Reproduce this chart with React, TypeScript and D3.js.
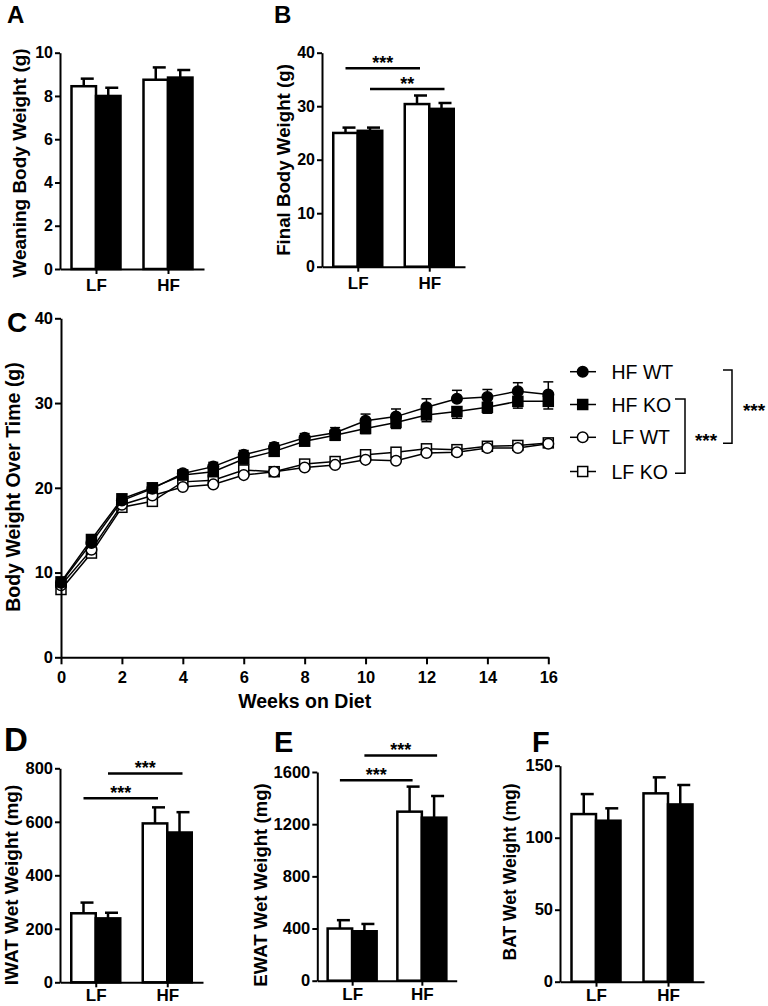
// Body weight and fat pad weights for WT / KO mice on LF and HF diets, drawn with D3

import React, { useEffect, useRef } from 'react'
import * as d3 from 'd3'

const groups = ['LF', 'HF']

// A: weaning body weight (g)
const weaningWT = [8.45, 8.75]
const weaningWTErr = [0.35, 0.57]
const weaningKO = [8.0, 8.85]
const weaningKOErr = [0.38, 0.35]

// B: final body weight (g)
const finalWT = [25.0, 30.4]
const finalWTErr = [1.0, 1.6]
const finalKO = [25.4, 29.5]
const finalKOErr = [0.6, 1.1]

// D: IWAT wet weight (mg)
const iwatWT = [258, 594]
const iwatWTErr = [40, 60]
const iwatKO = [239, 560]
const iwatKOErr = [21, 76]

// E: EWAT wet weight (mg)
const ewatWT = [400, 1296]
const ewatWTErr = [64, 192]
const ewatKO = [379, 1250]
const ewatKOErr = [56, 166]

// F: BAT wet weight (mg)
const batWT = [116.4, 130.8]
const batWTErr = [13.9, 11.1]
const batKO = [111.8, 123.1]
const batKOErr = [8.6, 13.5]

// C: body weight over time (g)
const weeks = [0, 1, 2, 3, 4, 5, 6, 7, 8, 9, 10, 11, 12, 13, 14, 15, 16]
const hfWT = [8.8, 13.5, 18.5, 19.9, 21.7, 22.5, 23.9, 24.8, 25.9, 26.5, 27.9, 28.4, 29.5, 30.5, 30.7, 31.4, 31.0]
const hfWTErr = [0.3, 0.4, 0.4, 0.4, 0.4, 0.5, 0.5, 0.5, 0.5, 0.6, 0.8, 0.9, 1.0, 1.0, 0.9, 1.0, 1.5]
const hfKO = [8.9, 13.9, 18.7, 20.0, 21.5, 21.9, 23.4, 24.3, 25.5, 26.2, 27.0, 27.7, 28.6, 29.0, 29.5, 30.2, 30.2]
const hfKOErr = [0.3, 0.3, 0.4, 0.4, 0.4, 0.4, 0.5, 0.5, 0.5, 0.6, 0.6, 0.7, 0.8, 0.8, 0.7, 0.8, 0.9]
const lfWT = [8.5, 12.7, 18.0, 19.1, 20.1, 20.4, 21.5, 21.9, 22.4, 22.7, 23.3, 23.2, 24.1, 24.2, 24.7, 24.7, 25.2]
const lfKO = [8.0, 12.3, 17.7, 18.4, 20.7, 20.9, 22.1, 21.9, 22.8, 23.1, 23.9, 24.2, 24.6, 24.5, 24.9, 25.0, 25.3]

const legendLabels = ['HF WT', 'HF KO', 'LF WT', 'LF KO']

const FONT = '"Liberation Sans", Arial, Helvetica, sans-serif'

const styleAxis = (ax, fontSize: number) => {
  ax.select('.domain').attr('stroke', 'black').attr('stroke-width', 2)
  ax.selectAll('.tick line').attr('stroke', 'black').attr('stroke-width', 2)
  ax.selectAll('.tick text')
    .attr('fill', 'black')
    .style('font-family', FONT)
    .style('font-weight', 'bold')
    .style('font-size', `${fontSize}px`)
}

const drawBarPanel = (svg, p) => {
  const y = d3.scaleLinear().domain([0, p.max]).range([p.yZero, p.yTop])
  const x = d3.scalePoint().domain(groups).range([p.x0, p.x1]).padding(0.5)
  const bw = 24.5
  const g = svg.append('g')

  // Bars: WT open, KO filled
  groups.forEach((grp, i) => {
    const cx = x(grp)
    const series = [
      { v: p.wt[i], e: p.wtErr[i], x: cx - bw, fill: 'white' },
      { v: p.ko[i], e: p.koErr[i], x: cx, fill: 'black' },
    ]
    series.forEach(s => {
      const mid = s.x + bw / 2
      g.append('line')
        .attr('x1', mid).attr('x2', mid)
        .attr('y1', y(s.v)).attr('y2', y(s.v + s.e))
        .attr('stroke', 'black').attr('stroke-width', 2.5)
      g.append('line')
        .attr('x1', mid - 3).attr('x2', mid + 10)
        .attr('y1', y(s.v + s.e)).attr('y2', y(s.v + s.e))
        .attr('stroke', 'black').attr('stroke-width', 2.5)
      g.append('rect')
        .attr('x', s.x).attr('width', bw)
        .attr('y', y(s.v)).attr('height', y(0) - y(s.v))
        .attr('fill', s.fill).attr('stroke', 'black').attr('stroke-width', 2.5)
    })
  })

  // Axes
  const ya = g.append('g')
    .attr('transform', `translate(${p.x0},0)`)
    .call(
      d3.axisLeft(y)
        .tickValues(p.ticks)
        .tickSize(5)
        .tickSizeOuter(0)
        .tickPadding(2)
        .tickFormat(d3.format('d'))
    )
  styleAxis(ya, p.tickSize)
  const xa = g.append('g')
    .attr('transform', `translate(0,${p.yZero})`)
    .call(d3.axisBottom(x).tickSize(5).tickSizeOuter(0).tickPadding(p.catPad))
  styleAxis(xa, 17)

  // Significance lines
  ;(p.sig || []).forEach(s => {
    const x1 = x(groups[0]) + (s.series === 0 ? -bw / 2 : bw / 2)
    const x2 = x(groups[1]) + (s.series === 0 ? -bw / 2 : bw / 2) + 3
    g.append('line')
      .attr('x1', x1).attr('x2', x2)
      .attr('y1', y(s.level)).attr('y2', y(s.level))
      .attr('stroke', 'black').attr('stroke-width', 2.5)
    g.append('text')
      .attr('x', (x1 + x2) / 2).attr('y', y(s.level) + 1)
      .attr('text-anchor', 'middle')
      .style('font-family', FONT).style('font-weight', 'bold').style('font-size', '18px')
      .text(s.label)
  })

  // Axis title
  g.append('text')
    .attr('transform', `translate(${p.titleX},${p.titleY}) rotate(-90)`)
    .attr('text-anchor', 'middle')
    .attr('dy', '0.35em')
    .style('font-family', FONT).style('font-weight', 'bold').style('font-size', `${p.titleSize}px`)
    .text(p.title)

  // Panel letter
  g.append('text')
    .attr('x', p.letterX).attr('y', p.letterY)
    .style('font-family', FONT).style('font-weight', 'bold').style('font-size', `${p.letterSize}px`)
    .text(p.letter)
}

const drawLinePanel = svg => {
  const x = d3.scaleLinear().domain([0, 16]).range([61, 548.3])
  const y = d3.scaleLinear().domain([0, 40]).range([657.3, 318.3])
  const g = svg.append('g')

  const series = [
    { vals: lfKO, err: null, dir: 0, shape: 'square', fill: 'white' },
    { vals: lfWT, err: null, dir: 0, shape: 'circle', fill: 'white' },
    { vals: hfKO, err: hfKOErr, dir: -1, shape: 'square', fill: 'black' },
    { vals: hfWT, err: hfWTErr, dir: 1, shape: 'circle', fill: 'black' },
  ]

  const line = d3.line<number>().x((d, i) => x(weeks[i])).y(d => y(d))

  const marker = (sel, shape, fill, cx, cy) => {
    if (shape === 'circle') {
      sel.append('circle').attr('cx', cx).attr('cy', cy).attr('r', 5.3)
        .attr('fill', fill).attr('stroke', 'black').attr('stroke-width', 1.5)
    } else {
      sel.append('rect').attr('x', cx - 5).attr('y', cy - 5).attr('width', 10).attr('height', 10)
        .attr('fill', fill).attr('stroke', 'black').attr('stroke-width', 1.5)
    }
  }

  series.forEach(s => {
    if (s.err) {
      s.vals.forEach((v, i) => {
        const ye = y(v + s.dir * s.err[i])
        g.append('line').attr('x1', x(weeks[i])).attr('x2', x(weeks[i]))
          .attr('y1', y(v)).attr('y2', ye).attr('stroke', 'black').attr('stroke-width', 1.5)
        g.append('line').attr('x1', x(weeks[i]) - 5).attr('x2', x(weeks[i]) + 5)
          .attr('y1', ye).attr('y2', ye).attr('stroke', 'black').attr('stroke-width', 1.5)
      })
    }
    g.append('path').attr('d', line(s.vals)).attr('fill', 'none')
      .attr('stroke', 'black').attr('stroke-width', 1.5)
    s.vals.forEach((v, i) => marker(g, s.shape, s.fill, x(weeks[i]), y(v)))
  })

  // Axes
  const ya = g.append('g')
    .attr('transform', 'translate(61,0)')
    .call(d3.axisLeft(y).tickValues([0, 10, 20, 30, 40]).tickSize(6).tickSizeOuter(0).tickPadding(2))
  styleAxis(ya, 16.5)
  const xa = g.append('g')
    .attr('transform', 'translate(0,657.3)')
    .call(d3.axisBottom(x).tickValues(d3.range(0, 17, 2)).tickSize(7).tickSizeOuter(0).tickPadding(7))
  styleAxis(xa, 16.5)

  g.append('text')
    .attr('x', 304.7).attr('y', 708)
    .attr('text-anchor', 'middle')
    .style('font-family', FONT).style('font-weight', 'bold').style('font-size', '19.5px')
    .text('Weeks on Diet')
  g.append('text')
    .attr('transform', 'translate(13,487) rotate(-90)')
    .attr('text-anchor', 'middle').attr('dy', '0.35em')
    .style('font-family', FONT).style('font-weight', 'bold').style('font-size', '19.5px')
    .text('Body Weight Over Time (g)')
  g.append('text')
    .attr('x', 7).attr('y', 332)
    .style('font-family', FONT).style('font-weight', 'bold').style('font-size', '28px')
    .text('C')

  // Legend
  const legendY = [371.7, 404.5, 437.3, 471.5]
  const legendSeries = [series[3], series[2], series[1], series[0]]
  legendLabels.forEach((lab, i) => {
    g.append('line').attr('x1', 570).attr('x2', 596)
      .attr('y1', legendY[i]).attr('y2', legendY[i])
      .attr('stroke', 'black').attr('stroke-width', 1.5)
    marker(g, legendSeries[i].shape, legendSeries[i].fill, 582.7, legendY[i])
    g.append('text')
      .attr('x', 611.5).attr('y', legendY[i] + 7)
      .style('font-family', FONT).style('font-size', '19.5px')
      .text(lab)
  })

  // Brackets
  const bracket = (x1, x2, y1, y2) =>
    g.append('path').attr('d', `M${x1},${y1}H${x2}V${y2}H${x1}`)
      .attr('fill', 'none').attr('stroke', 'black').attr('stroke-width', 1.5)
  bracket(675, 685, 399, 473.3)
  bracket(723, 732, 370, 443.3)
  g.append('text').attr('x', 706).attr('y', 447).attr('text-anchor', 'middle')
    .style('font-family', FONT).style('font-weight', 'bold').style('font-size', '19px').text('***')
  g.append('text').attr('x', 754).attr('y', 417).attr('text-anchor', 'middle')
    .style('font-family', FONT).style('font-weight', 'bold').style('font-size', '19px').text('***')
}

const create = (el: SVGSVGElement) => {
  const svg = d3.select(el)
  svg.selectAll('*').remove()

  drawBarPanel(svg, {
    wt: weaningWT, wtErr: weaningWTErr, ko: weaningKO, koErr: weaningKOErr,
    x0: 60, x1: 204, yTop: 52.7, yZero: 269, max: 10, ticks: [0, 2, 4, 6, 8, 10], tickSize: 16,
    catPad: 5,
    title: 'Weaning Body Weight (g)', titleX: 19, titleY: 163, titleSize: 19,
    letter: 'A', letterX: 7, letterY: 23, letterSize: 24,
  })
  drawBarPanel(svg, {
    wt: finalWT, wtErr: finalWTErr, ko: finalKO, koErr: finalKOErr,
    x0: 322, x1: 465, yTop: 52.7, yZero: 266.7, max: 40, ticks: [0, 10, 20, 30, 40], tickSize: 16,
    catPad: 5,
    title: 'Final Body Weight (g)', titleX: 283, titleY: 160, titleSize: 18.7,
    letter: 'B', letterX: 274, letterY: 23, letterSize: 24,
    sig: [
      { series: 0, level: 37.1, label: '***' },
      { series: 1, level: 33.2, label: '**' },
    ],
  })
  drawLinePanel(svg)
  drawBarPanel(svg, {
    wt: iwatWT, wtErr: iwatWTErr, ko: iwatKO, koErr: iwatKOErr,
    x0: 60, x1: 203, yTop: 768.3, yZero: 982.3, max: 800, ticks: [0, 200, 400, 600, 800], tickSize: 16.5,
    catPad: 2,
    title: 'IWAT Wet Weight (mg)', titleX: 11, titleY: 885, titleSize: 19,
    letter: 'D', letterX: 4, letterY: 751, letterSize: 33,
    sig: [
      { series: 0, level: 688, label: '***' },
      { series: 1, level: 781, label: '***' },
    ],
  })
  drawBarPanel(svg, {
    wt: ewatWT, wtErr: ewatWTErr, ko: ewatKO, koErr: ewatKOErr,
    x0: 317.3, x1: 456.7, yTop: 772, yZero: 980.7, max: 1600, ticks: [0, 400, 800, 1200, 1600], tickSize: 16.5,
    catPad: 2,
    title: 'EWAT Wet Weight (mg)', titleX: 260, titleY: 885, titleSize: 18.6,
    letter: 'E', letterX: 274, letterY: 752, letterSize: 29,
    sig: [
      { series: 0, level: 1537, label: '***' },
      { series: 1, level: 1727, label: '***' },
    ],
  })
  drawBarPanel(svg, {
    wt: batWT, wtErr: batWTErr, ko: batKO, koErr: batKOErr,
    x0: 560, x1: 704, yTop: 765.7, yZero: 981.7, max: 150, ticks: [0, 50, 100, 150], tickSize: 16.5,
    catPad: 2,
    title: 'BAT Wet Weight (mg)', titleX: 510, titleY: 872, titleSize: 17.5,
    letter: 'F', letterX: 532, letterY: 752, letterSize: 29,
  })
}

export default function App() {
  const ref = useRef<SVGSVGElement>(null)
  useEffect(() => {
    if (ref.current) create(ref.current)
  }, [])
  return (
    <svg
      ref={ref}
      width={768}
      height={1006}
      style={{ position: 'absolute', left: 0, top: 0, background: 'white' }}
    />
  )
}
